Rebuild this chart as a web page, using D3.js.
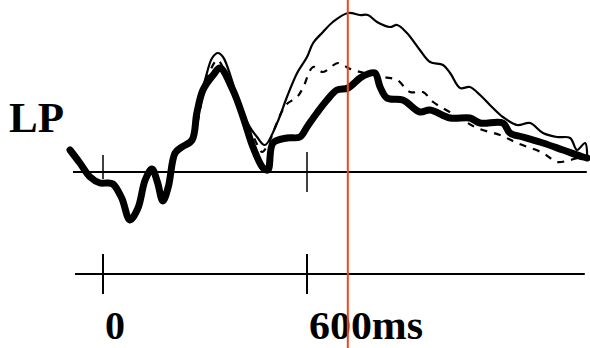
<!DOCTYPE html>
<html>
<head>
<meta charset="utf-8">
<script src="https://cdn.jsdelivr.net/npm/d3@7"></script>
<style>
  html, body { margin: 0; padding: 0; background: #fff; }
  svg { display: block; }
  .lbl { font-family: "Liberation Serif", "DejaVu Serif", serif; font-weight: bold; fill: #000; }
</style>
</head>
<body>
<svg id="chart" width="590" height="348"></svg>
<script>
// [ms, amplitude]
const early = [
    [-97, 2.2], [-68, 0.9], [-38, -0.5], [-9, -1.1], [12, -1.1], [29, -1.2],
    [55, -2.6], [79, -4.8], [103, -3.6], [124, -0.8], [144, 0.3], [160, -1.0],
    [176, -2.9], [192, -1.5], [212, 1.9], [232, 2.5], [262, 3.2]
];

const thickWave = early.concat([
    [276, 5.9], [294, 8.2], [324, 9.7], [344, 10.4], [382, 8.2], [412, 5.5],
    [441, 2.5], [471, 0.4], [485, 0.2], [500, 2.9], [541, 3.4], [579, 3.5],
    [600, 4.5], [629, 5.9], [659, 7.2], [688, 8.2], [721, 8.4], [756, 9.4],
    [779, 9.8], [800, 9.9], [815, 8.5], [835, 7.4], [882, 7.2], [932, 6.0],
    [962, 6.2], [1021, 5.4], [1079, 5.4], [1109, 4.9], [1176, 4.9], [1197, 3.9],
    [1235, 3.5], [1294, 2.9], [1353, 2.2], [1412, 1.5], [1424, 1.4]
]);

const thinWave = early.concat([
    [276, 6.2], [300, 9.2], [321, 11.4], [338, 11.9], [353, 11.5], [379, 9.2],
    [403, 6.5], [432, 4.5], [453, 3.5], [476, 2.7], [512, 4.9], [541, 7.5],
    [571, 9.9], [600, 11.5], [618, 12.9], [647, 14.0], [676, 15.0], [721, 15.9],
    [756, 15.7], [779, 15.7], [806, 15.0], [844, 14.5], [865, 14.7], [894, 13.9],
    [932, 12.2], [962, 11.0], [1000, 10.7], [1021, 9.9], [1050, 8.4], [1079, 8.5],
    [1109, 7.7], [1138, 6.7], [1176, 5.5], [1218, 4.7], [1256, 4.9], [1294, 3.9],
    [1335, 3.5], [1374, 3.4], [1394, 2.2], [1418, 2.9], [1424, 1.5]
]);

const dashedWave = early.concat([
    [300, 8.7], [329, 11.0], [338, 11.2], [379, 8.4], [412, 5.7], [447, 3.2],
    [468, 2.0], [491, 3.2], [521, 5.7], [541, 6.8], [571, 7.5], [588, 8.4],
    [618, 10.5], [647, 10.0], [691, 10.9], [721, 10.4], [735, 10.2], [824, 9.5],
    [865, 9.2], [903, 8.0], [941, 8.0], [971, 7.0], [1035, 5.7], [1100, 4.4],
    [1168, 3.7], [1218, 2.9], [1294, 1.9], [1335, 1.0], [1374, 1.2], [1412, 1.5],
    [1424, 1.4]
]);

const tickTimes = [0, 600];
const tickLabels = ['0', '600ms'];
const markerTime = 720;
const timeRange = [-100, 1420];

const svg = d3.select('#chart');

const x = d3.scaleLinear().domain([0, 600]).range([103, 307]);
const y = d3.scaleLinear().domain([0, 10]).range([172, 72]);

const line = d3.line()
    .x(d => x(d[0]))
    .y(d => y(d[1]))
    .curve(d3.curveCatmullRom.alpha(0.5));

// upper baseline with ticks
svg.append('line')
    .attr('x1', x(timeRange[0]) + 4).attr('x2', x(timeRange[1]) + 1)
    .attr('y1', y(0)).attr('y2', y(0))
    .attr('stroke', '#000').attr('stroke-width', 2);

svg.selectAll('.utick')
    .data(tickTimes)
    .enter()
    .append('line')
    .attr('class', 'utick')
    .attr('x1', d => x(d)).attr('x2', d => x(d))
    .attr('y1', (d, i) => i === 0 ? 155 : 152)
    .attr('y2', (d, i) => i === 0 ? 179 : 192)
    .attr('stroke', '#000').attr('stroke-width', 1.5);

// waves
svg.append('path')
    .datum(thinWave)
    .attr('d', line)
    .attr('fill', 'none')
    .attr('stroke', '#000')
    .attr('stroke-width', 2.2)
    .attr('stroke-linejoin', 'round');

svg.append('path')
    .datum(dashedWave)
    .attr('d', line)
    .attr('fill', 'none')
    .attr('stroke', '#000')
    .attr('stroke-width', 2.2)
    .attr('stroke-dasharray', '7,7');

svg.append('path')
    .datum(thickWave)
    .attr('d', line)
    .attr('fill', 'none')
    .attr('stroke', '#000')
    .attr('stroke-width', 7)
    .attr('stroke-linejoin', 'round')
    .attr('stroke-linecap', 'round');

// lower time axis
const axisY = 274;
svg.append('line')
    .attr('x1', x(timeRange[0]) + 6).attr('x2', x(timeRange[1]) - 1)
    .attr('y1', axisY).attr('y2', axisY)
    .attr('stroke', '#000').attr('stroke-width', 2);

svg.selectAll('.ltick')
    .data(tickTimes)
    .enter()
    .append('line')
    .attr('class', 'ltick')
    .attr('x1', d => x(d)).attr('x2', d => x(d))
    .attr('y1', axisY - 20).attr('y2', axisY + 20)
    .attr('stroke', '#000').attr('stroke-width', 2);

// labels sit right at the bottom edge, keep the descent inside
svg.selectAll('.tlabel')
    .data(tickTimes)
    .enter()
    .append('text')
    .attr('class', 'lbl tlabel')
    .attr('x', d => x(d) + 2)
    .attr('y', 339)
    .attr('font-size', 40)
    .attr('textLength', (d, i) => i === 0 ? 20 : 114)
    .attr('lengthAdjust', 'spacingAndGlyphs')
    .text((d, i) => tickLabels[i]);

svg.append('text')
    .attr('class', 'lbl')
    .attr('x', 9)
    .attr('y', 132)
    .attr('font-size', 43)
    .text('LP');

// marker
svg.append('line')
    .attr('x1', x(markerTime)).attr('x2', x(markerTime))
    .attr('y1', 0).attr('y2', 348)
    .attr('stroke', '#f0461e').attr('stroke-width', 2);
</script>
</body>
</html>
